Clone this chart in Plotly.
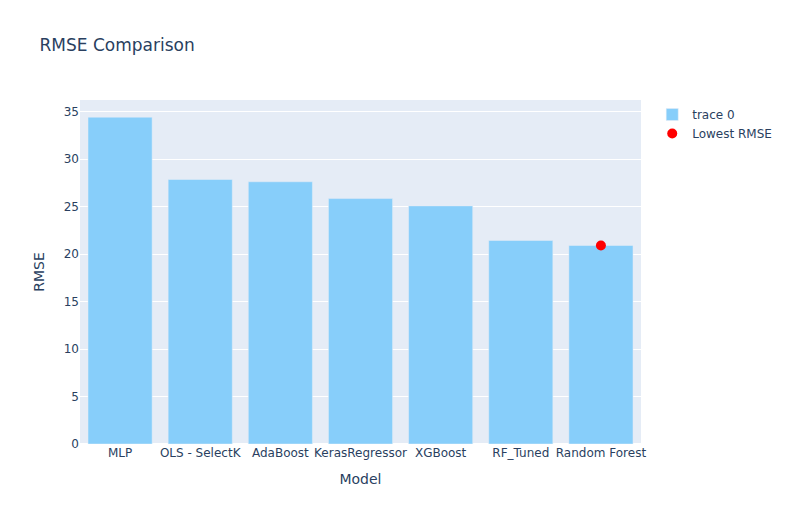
import plotly.graph_objects as go

models = ["MLP", "OLS - SelectK", "AdaBoost", "KerasRegressor", "XGBoost", "RF_Tuned", "Random Forest"]
rmse = [34.41, 27.85, 27.61, 25.84, 25.07, 21.43, 20.9]

best_i = rmse.index(min(rmse))

fig = go.Figure()
fig.add_trace(go.Bar(x=models, y=rmse, marker_color="lightskyblue"))
fig.add_trace(go.Scatter(
    x=[models[best_i]], y=[rmse[best_i]],
    mode="markers", name="Lowest RMSE",
    marker=dict(color="red", size=10),
))

# page body has an 8px margin, so shift margins to land the plot where the static export had it
fig.update_layout(
    title=dict(text="RMSE Comparison", x=0.0407, y=0.927, yanchor="middle"),
    xaxis_title="Model",
    yaxis_title="RMSE",
    font_family="Verdana, DejaVu Sans, sans-serif",
    margin=dict(l=72, r=141, t=92, b=73, autoexpand=False),
)

fig.write_html("out.html")
